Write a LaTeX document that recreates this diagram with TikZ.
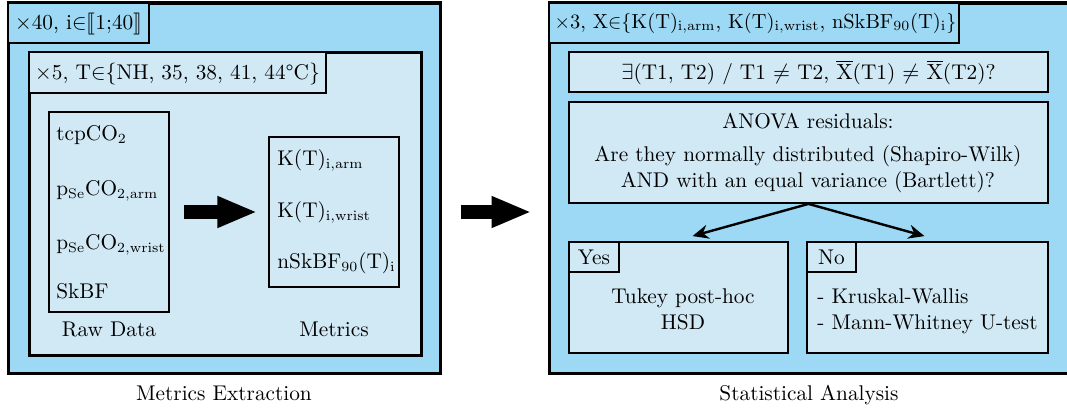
\documentclass[tikz,border=0pt]{standalone}
\usepackage{amsmath}
\usepackage{stmaryrd}
\usetikzlibrary{arrows.meta,fit,calc}
\definecolor{outerblue}{RGB}{157,217,244}
\definecolor{innerblue}{RGB}{209,233,245}
\tikzset{
 every node/.style={font=\fontsize{10.65}{13}\selectfont},
 panel/.style={draw, line width=1.5pt, fill=outerblue, inner sep=0pt},
 group/.style={draw, line width=1.5pt, fill=innerblue, inner sep=0pt},
 titlebox/.style={draw, line width=0.9pt, inner sep=0pt},
 listbox/.style={draw, line width=0.7pt, inner sep=0pt},
 qbox/.style={draw, line width=0.9pt, fill=innerblue, inner sep=0pt},
 txt/.style={inner sep=0pt, anchor=base west},
 ctxt/.style={inner sep=0pt, anchor=base},
 bigarrow/.style={line width=7pt, -{Triangle[length=20pt,width=14.5pt]}},
 conn/.style={line width=1.2pt, -{Stealth[length=8pt,width=7pt]}},
}
\begin{document}
\begin{tikzpicture}[x=0.5pt,y=-0.5pt]
\useasboundingbox (0,0) rectangle (1067,412);
\clip (0,0) rectangle (1067,412);
% ---------------- left panel ----------------
\node[panel, fit={(8,3) (440,373)}] (lpanel) {};
\node[titlebox, fill=outerblue, fit={(8,3) (149,43)}] (ltitle) {};
\node[ctxt] (ltitletxt) at (78.5,29) {$\times$40, i$\mathord{\in}\llbracket$1;40$\rrbracket$};
\node[group, fit={(29,52) (421,355)}] (lgroup) {};
\node[titlebox, fill=innerblue, fit={(29,52) (326,93)}] (gtitle) {};
\node[ctxt] (gtitletxt) at (177.5,79) {$\times$5, T$\mathord{\in}\{$NH, 35, 38, 41, 44°C$\}$};
\node[listbox, fit={(49,112) (169,312)}] (raw) {};
\node[txt] (r1) at (56,140) {tcpCO$_2$};
\node[txt] (r2) at (56,195) {p$_\mathrm{Se}$CO$_\mathrm{2,arm}$};
\node[txt] (r3) at (56,249) {p$_\mathrm{Se}$CO$_\mathrm{2,wrist}$};
\node[txt] (r4) at (56,298) {SkBF};
\node[ctxt] (rawlbl) at (109,336) {Raw Data};
\node[listbox, fit={(269,137) (399,287)}] (met) {};
\node[txt] (m1) at (277,165) {K(T)$_\mathrm{i,arm}$};
\node[txt] (m2) at (277,217) {K(T)$_\mathrm{i,wrist}$};
\node[txt] (m3) at (277,268) {nSkBF$_{90}$(T)$_\mathrm{i}$};
\node[ctxt] (metlbl) at (334,336) {Metrics};
\draw[bigarrow] ([xshift=7pt]raw.east) -- ([xshift=-5.5pt]met.west);
\node[ctxt] (cap1) at (224,400) {Metrics Extraction};
% ---------------- right panel ----------------
\node[panel, fit={(549,3) (1085,373)}] (rpanel) {};
\node[titlebox, fill=outerblue, fit={(549,3) (959,43)}] (rtitle) {};
\node[ctxt, font=\fontsize{10.2}{12}\selectfont] (rtitletxt) at (755.5,28) {$\times$3, X$\mathord{\in}\{$K(T)$_\mathrm{i,arm}$, K(T)$_\mathrm{i,wrist}$, nSkBF$_{90}$(T)$_\mathrm{i}\}$};
\node[qbox, fit={(569,52) (1048,92)}] (quest) {};
\node[ctxt] (questtxt) at (808.5,79) {$\exists$(T1, T2) / T1 $\neq$ T2, $\overline{\mathrm{X}}$(T1) $\neq$ $\overline{\mathrm{X}}$(T2)?};
\node[qbox, fit={(569,102) (1048,203)}] (anova) {};
\node[ctxt] (a1) at (808,128) {ANOVA residuals:};
\node[ctxt] (a2) at (808,161) {Are they normally distributed (Shapiro-Wilk)};
\node[ctxt] (a3) at (808,187) {AND with an equal variance (Bartlett)?};
\node[qbox, fit={(569,242) (788,353)}] (yes) {};
\node[titlebox, fit={(569,242) (619,272)}] (yeslbl) {};
\node[ctxt] (yestxt) at (594,264) {Yes};
\node[ctxt] (y1) at (683,303) {Tukey post-hoc};
\node[ctxt] (y2) at (683,329) {HSD};
\node[qbox, fit={(807,242) (1048,353)}] (no) {};
\node[titlebox, fit={(807,242) (856,272)}] (nolbl) {};
\node[ctxt] (notxt) at (831.5,264) {No};
\node[txt] (n1) at (817,303) {- Kruskal-Wallis};
\node[txt] (n2) at (817,329) {- Mann-Whitney U-test};
\draw[conn] (anova.south) -- ([shift={(14,-5)}]yes.north);
\draw[conn] (anova.south) -- ([shift={(-3,-5)}]no.north);
\node[ctxt] (cap2) at (809,400) {Statistical Analysis};
% ---------------- between panels ----------------
\draw[bigarrow] ([xshift=9.5pt]lpanel.east |- raw.east) -- ([xshift=-8pt]rpanel.west |- raw.east);
\end{tikzpicture}
\end{document}
